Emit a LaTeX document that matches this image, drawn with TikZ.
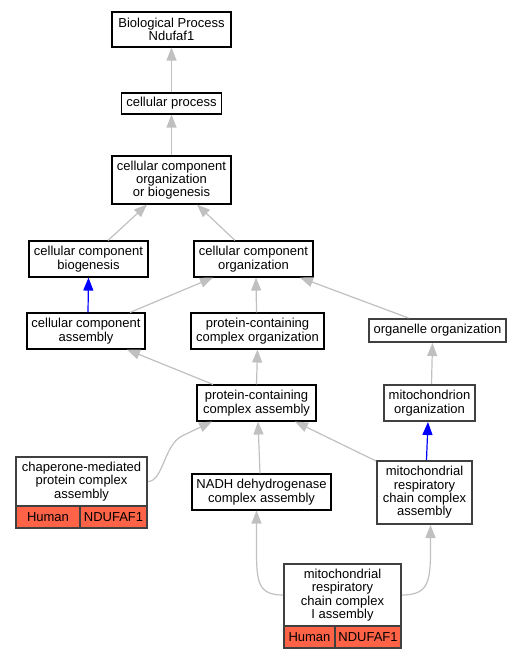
\documentclass[tikz,border=0pt]{standalone}
\usepackage{fontspec}
\setmainfont{Liberation Sans}
\usetikzlibrary{arrows.meta}
\definecolor{edgegray}{HTML}{C0C0C0}
\definecolor{tomato}{HTML}{FF6347}
\definecolor{boxgray}{HTML}{404040}
\begin{document}
\begin{tikzpicture}[x=1pt,y=-1pt,>={Triangle[length=13pt,width=10pt]},
  term/.style={draw,line width=1.1pt,fill=white,inner sep=0pt,align=center,font=\fontsize{13}{13.3}\selectfont},
  termb/.style={term,draw=boxgray,line width=2pt},
  cell/.style={termb,fill=tomato},
  isa/.style={draw=edgegray,line width=1.2pt,->},
  partof/.style={draw=blue,line width=1.2pt,->}]
   \useasboundingbox (0,0) rectangle (521,659);

   % ノード
   \node[term,minimum width=119pt,minimum height=35pt] (bp) at (171.5,29.5) {Biological Process\\Ndufaf1};
   \node[term,minimum width=100pt,minimum height=21pt] (cp) at (171.5,103.5) {cellular process};
   \node[term,minimum width=119pt,minimum height=48pt] (ccob) at (171.5,180) {cellular component\\organization\\or biogenesis};
   \node[term,minimum width=119pt,minimum height=36pt] (ccb) at (88.5,259) {cellular component\\biogenesis};
   \node[term,minimum width=119pt,minimum height=36pt] (cco) at (253.5,259) {cellular component\\organization};
   \node[term,minimum width=118pt,minimum height=36pt] (cca) at (86,331) {cellular component\\assembly};
   \node[term,minimum width=133pt,minimum height=36pt] (pco) at (257.5,331) {protein-containing\\complex organization};
   \node[termb,minimum width=137pt,minimum height=23pt] (oo) at (437.5,330.5) {organelle organization};
   \node[term,minimum width=119pt,minimum height=36pt] (pca) at (256.5,403) {protein-containing\\complex assembly};
   \node[termb,minimum width=91pt,minimum height=36pt] (mo) at (429.5,403) {mitochondrion\\organization};
   \node[termb,minimum width=131pt,minimum height=49pt] (chap) at (81.5,481.5) {chaperone-mediated\\protein complex\\assembly};
   \node[cell,minimum width=64pt,minimum height=22pt] (chaph) at (48,517) {Human};
   \node[cell,minimum width=67pt,minimum height=22pt] (chapg) at (113.5,517) {NDUFAF1};
   \node[term,minimum width=139pt,minimum height=36pt] (nadh) at (261.5,492) {NADH dehydrogenase\\complex assembly};
   \node[termb,minimum width=95pt,minimum height=63pt] (mrc) at (424.5,492.5) {mitochondrial\\respiratory\\chain complex\\assembly};
   \node[termb,minimum width=117pt,minimum height=62pt] (ci) at (342.5,595) {mitochondrial\\respiratory\\chain complex\\I assembly};
   \node[cell,minimum width=51pt,minimum height=22pt] (cih) at (309.5,637) {Human};
   \node[cell,minimum width=66pt,minimum height=22pt] (cig) at (368,637) {NDUFAF1};

   % 矢印
   \draw[isa] (cp.north) -- (bp.south);
   \draw[isa] (ccob.north) -- (cp.south);
   \draw[isa] ([xshift=19.5pt]ccb.north) -- ([xshift=-24.5pt]ccob.south);
   \draw[isa] ([xshift=-18.5pt]cco.north) -- ([xshift=25.5pt]ccob.south);
   \draw[partof] ([xshift=2pt]cca.north) -- (ccb.south);
   \draw[isa] ([xshift=44pt]cca.north) -- ([xshift=-40.5pt]cco.south);
   \draw[isa] ([xshift=-1pt]pco.north) -- ([xshift=2.5pt]cco.south);
   \draw[isa] ([xshift=-29pt]oo.north) -- ([xshift=46.5pt]cco.south);
   \draw[isa] ([xshift=-43.5pt]pca.north) -- ([xshift=41pt]cca.south);
   \draw[isa] (pca.north) -- (pco.south);
   \draw[isa] ([xshift=2pt]mo.north) -- ([xshift=-5pt]oo.south);
   \draw[partof] ([xshift=2pt]mrc.north) -- ([xshift=-1.5pt]mo.south);
   \draw[isa] (chap.east) .. controls (163,481.5) and (164,445) .. (182,436) -- ([xshift=-44.5pt]pca.south);
   \draw[isa] ([xshift=-1.5pt]nadh.north) -- ([xshift=1.5pt]pca.south);
   \draw[isa] ([yshift=-1pt]mrc.north west) -- ([xshift=38.5pt]pca.south);
   \draw[isa] (ci.west) .. controls (258,595) and (256.5,582) .. (256.5,550) -- ([xshift=-5pt]nadh.south);
   \draw[isa] (ci.east) .. controls (428,595) and (430.5,582) .. (430.5,550) -- ([xshift=6pt]mrc.south);

\end{tikzpicture}
\end{document}
